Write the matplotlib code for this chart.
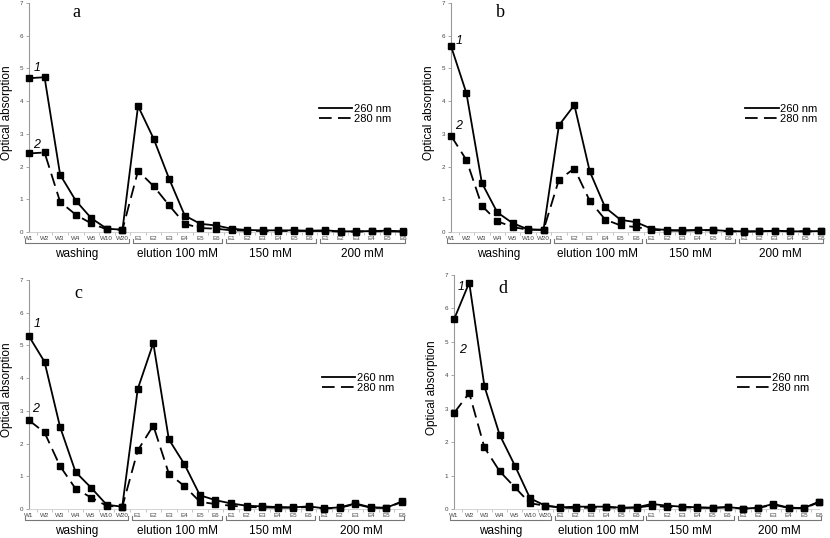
import matplotlib.pyplot as plt
from matplotlib.lines import Line2D
from matplotlib.transforms import blended_transform_factory

plt.rcParams["font.family"] = ["Liberation Sans", "DejaVu Sans"]

# fractions along the x axis
fractions = ["W1", "W2", "W3", "W4", "W5", "W10", "W20",
             "E1", "E2", "E3", "E4", "E5", "E6",
             "E1", "E2", "E3", "E4", "E5", "E6",
             "E1", "E2", "E3", "E4", "E5", "E6"]
groups = ["washing", "elution 100 mM", "150 mM", "200 mM"]
group_sizes = [7, 6, 6, 6]

# panel a
a_260 = [4.70, 4.73, 1.75, 0.96, 0.42, 0.10, 0.07,
         3.85, 2.85, 1.62, 0.50, 0.25, 0.20,
         0.10, 0.06, 0.05, 0.05, 0.05, 0.04,
         0.05, 0.02, 0.02, 0.03, 0.04, 0.02]
a_280 = [2.40, 2.43, 0.92, 0.53, 0.26, 0.08, 0.07,
         1.87, 1.40, 0.81, 0.25, 0.12, 0.10,
         0.05, 0.04, 0.03, 0.03, 0.03, 0.03,
         0.03, 0.01, 0.01, 0.02, 0.02, 0.01]
# panel b
b_260 = [5.68, 4.24, 1.50, 0.60, 0.27, 0.08, 0.07,
         3.26, 3.88, 1.85, 0.75, 0.37, 0.30,
         0.10, 0.06, 0.05, 0.06, 0.06, 0.03,
         0.02, 0.02, 0.04, 0.02, 0.02, 0.03]
b_280 = [2.94, 2.20, 0.80, 0.33, 0.15, 0.07, 0.06,
         1.60, 1.94, 0.95, 0.38, 0.20, 0.15,
         0.07, 0.04, 0.04, 0.05, 0.05, 0.02,
         0.01, 0.02, 0.03, 0.02, 0.02, 0.02]
# panel c
c_260 = [5.28, 4.50, 2.51, 1.13, 0.65, 0.13, 0.07,
         3.67, 5.07, 2.13, 1.37, 0.42, 0.27,
         0.17, 0.10, 0.08, 0.06, 0.05, 0.08,
         0.02, 0.05, 0.17, 0.05, 0.04, 0.23]
c_280 = [2.71, 2.34, 1.31, 0.62, 0.35, 0.10, 0.06,
         1.79, 2.55, 1.08, 0.70, 0.22, 0.15,
         0.10, 0.06, 0.05, 0.04, 0.04, 0.06,
         0.01, 0.04, 0.15, 0.04, 0.03, 0.22]
# panel d
d_260 = [5.67, 6.77, 3.67, 2.22, 1.30, 0.32, 0.10,
         0.05, 0.07, 0.07, 0.07, 0.04, 0.05,
         0.15, 0.10, 0.07, 0.05, 0.04, 0.06,
         0.01, 0.04, 0.15, 0.04, 0.03, 0.22]
d_280 = [2.87, 3.47, 1.84, 1.13, 0.65, 0.17, 0.10,
         0.04, 0.03, 0.04, 0.05, 0.03, 0.04,
         0.10, 0.06, 0.05, 0.04, 0.03, 0.05,
         0.01, 0.03, 0.13, 0.03, 0.02, 0.20]

panels = [
    # letter, 260, 280, axes rect, letter pos, "1" pos, "2" pos, legend anchor
    ("a", a_260, a_280, [0.0349, 0.5688, 0.4506, 0.4257], (2.8, 6.7), (0.55, 5.0), (0.5, 2.65), (0.775, 0.515)),
    ("b", b_260, b_280, [0.5434, 0.5688, 0.4458, 0.4257], (2.9, 6.7), (0.55, 5.85), (0.5, 3.25), (0.795, 0.515)),
    ("c", c_260, c_280, [0.0349, 0.0539, 0.4494, 0.4257], (2.9, 6.6), (0.5, 5.65), (0.45, 3.05), (0.785, 0.55)),
    ("d", d_260, d_280, [0.5470, 0.0539, 0.4398, 0.4350], (2.9, 6.6), (0.45, 6.65), (0.55, 4.75), (0.775, 0.54)),
]

fig = plt.figure(figsize=(8.3, 5.38), dpi=100)
x = list(range(len(fractions)))

for letter, y260, y280, rect, lpos, p1, p2, leg_anchor in panels:
    ax = fig.add_axes(rect)
    ax.plot(x, y260, "-s", color="black", lw=1.3, ms=4, clip_on=False, zorder=3)
    ax.plot(x, y280, "--s", color="black", lw=1.3, ms=4, dashes=(7, 3.5),
            clip_on=False, zorder=3)

    ax.set_xlim(0, len(fractions) - 1)
    ax.set_ylim(0, 7)
    ax.set_yticks(range(8))
    ax.set_xticks(x)
    ax.set_xticklabels(fractions)
    ax.set_xticks([i + 0.5 for i in x[:-1]], minor=True)
    ax.tick_params(axis="y", labelsize=4.5, labelcolor="#444444", length=2,
                   width=0.6, color="#999999", pad=2)
    ax.tick_params(axis="x", which="major", labelsize=4.5, labelcolor="#444444",
                   length=0, pad=3)
    ax.tick_params(axis="x", which="minor", length=2, width=0.5, color="#aaaaaa")
    for side in ["top", "right"]:
        ax.spines[side].set_visible(False)
    ax.spines["left"].set_color("#999999")
    ax.spines["left"].set_linewidth(0.8)
    ax.spines["bottom"].set_color("#cccccc")
    ax.spines["bottom"].set_linewidth(0.6)

    ax.set_ylabel("Optical absorption", fontsize=8.5)
    ax.yaxis.set_label_coords(-0.043, 0.52)

    # group brackets below the tick labels
    tr = blended_transform_factory(ax.transData, ax.transAxes)
    start = 0
    for k, (name, size) in enumerate(zip(groups, group_sizes)):
        x0 = start - 0.25 if k == 0 else start - 0.35
        x1 = start + size - 1 + (0.1 if k == len(groups) - 1 else 0.4)
        ax.add_line(Line2D([x0, x0, x1, x1], [-0.03, -0.048, -0.048, -0.03],
                           transform=tr, color="#777777", lw=0.8, clip_on=False))
        ax.text((x0 + x1) / 2, -0.095, name, transform=tr, ha="center",
                va="center", fontsize=8.5)
        start += size

    ax.text(lpos[0], lpos[1], letter, fontsize=13, family="Liberation Serif",
            ha="left", va="center")
    ax.text(p1[0], p1[1], "1", fontsize=9, style="italic", ha="center", va="center")
    ax.text(p2[0], p2[1], "2", fontsize=9, style="italic", ha="center", va="center")

    handles = [Line2D([], [], color="black", lw=1.3),
               Line2D([], [], color="black", lw=1.3, ls="--", dashes=(7, 3.5))]
    ax.legend(handles, ["260 nm", "280 nm"], loc="center left",
              bbox_to_anchor=leg_anchor, frameon=False, fontsize=8,
              handlelength=3.0, handletextpad=0.15, labelspacing=0.0,
              borderpad=0, borderaxespad=0)

fig.savefig("out.png", dpi=100)
